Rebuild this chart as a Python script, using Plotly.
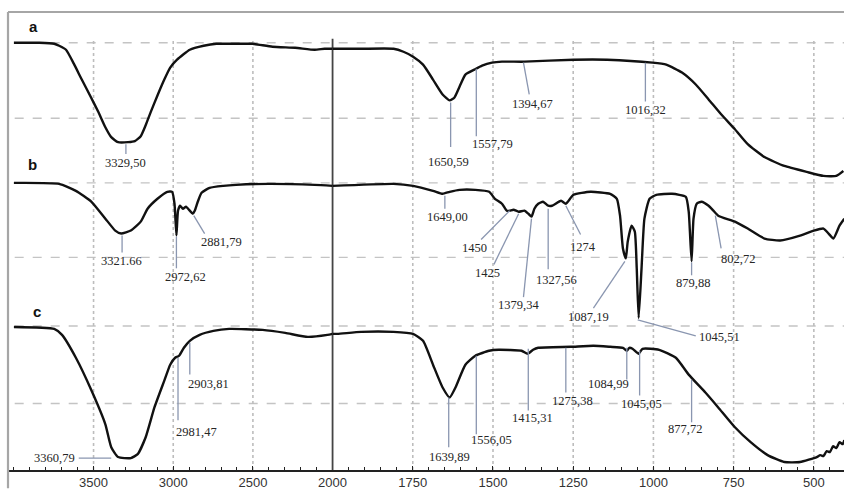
import plotly.graph_objects as go

# ---------------- data (wavenumber cm-1, transmittance a.u.) ----------------
a_wn = [4000, 3840, 3747, 3716, 3673, 3624, 3574, 3519, 3469, 3426, 3389, 3346, 3284, 3241, 3204,
        3173, 3142, 3099, 3056, 3019, 2976, 2896, 2809, 2729, 2575, 2501, 2377, 2235, 2112, 2050,
        2000, 1911, 1810, 1779, 1749, 1718, 1687, 1657, 1635, 1620, 1604, 1586, 1558, 1534, 1503,
        1472, 1402, 1249, 1144, 1003, 960, 911, 868, 828, 789, 746, 706, 654, 592, 522, 470, 430, 408]
a_t = [430, 430, 429, 427, 423, 409, 393, 376, 360, 345, 335, 330, 330, 331, 336,
       347, 360, 377, 393, 405, 413, 423, 427, 429, 429, 429, 426, 425, 423, 424,
       424, 424, 424, 421, 416, 408, 393, 378, 372, 375, 386, 398, 403, 407, 410,
       411, 411, 413, 413, 410, 408, 400, 388, 373, 358, 343, 328, 315, 306, 300, 296, 296, 301]

b_wn = [4000, 3716, 3611, 3513, 3426, 3364, 3327, 3266, 3204, 3161, 3099, 3037, 3007, 2992, 2980,
        2970, 2957, 2939, 2920, 2896, 2877, 2865, 2846, 2822, 2772, 2686, 2606, 2402, 2112, 2000,
        1810, 1749, 1687, 1657, 1635, 1604, 1555, 1512, 1494, 1472, 1457, 1448, 1436, 1420, 1402,
        1390, 1380, 1371, 1359, 1344, 1328, 1316, 1288, 1273, 1249, 1196, 1135, 1114, 1104, 1095,
        1086, 1080, 1068, 1058, 1052, 1046, 1037, 1028, 1012, 991, 942, 899, 890, 881, 875, 865,
        850, 828, 813, 798, 746, 706, 654, 605, 543, 500, 470, 454, 439, 420, 405]
b_t = [289, 288, 281, 270, 253, 241, 238, 241, 250, 263, 273, 280, 280, 268, 236,
       261, 266, 263, 265, 261, 258, 261, 270, 279, 284, 286, 287, 288, 287, 286,
       288, 286, 281, 278, 280, 282, 282, 280, 273, 268, 261, 261, 262, 260, 261,
       258, 255, 263, 268, 270, 266, 266, 271, 268, 277, 280, 278, 273, 256, 223,
       213, 230, 246, 240, 203, 153, 203, 253, 273, 277, 278, 275, 260, 210, 253, 268,
       270, 266, 261, 256, 250, 243, 233, 231, 236, 241, 243, 238, 233, 246, 253]

c_wn = [4000, 3747, 3698, 3611, 3513, 3426, 3389, 3346, 3266, 3223, 3173, 3118, 3056, 3019, 2988,
        2975, 2963, 2933, 2896, 2834, 2748, 2649, 2439, 2297, 2155, 2032, 2000,
        1985, 1911, 1810, 1749, 1718, 1687, 1657, 1635, 1617, 1586, 1555, 1512, 1482, 1411, 1392,
        1375, 1359, 1258, 1187, 1135, 1095, 1083, 1075, 1065, 1046, 1034, 982, 930, 890, 838, 798,
        746, 697, 644, 592, 543, 491, 480, 470, 460, 450, 440, 430, 420, 410, 405]
c_t = [144, 142, 136, 113, 80, 46, 23, 13, 12, 16, 33, 63, 90, 106, 113,
       114, 115, 123, 130, 136, 140, 142, 141, 138, 134, 136, 137,
       137, 139, 139, 137, 130, 106, 83, 73, 83, 106, 115, 120, 121, 120, 117,
       121, 123, 124, 125, 124, 123, 120, 123, 122, 117, 122, 121, 113, 96, 78, 63,
       43, 28, 15, 8, 8, 13, 15, 14, 19, 18, 24, 22, 28, 26, 30]

# tick labels
left_ticks = [3500, 3000, 2500, 2000]
right_ticks = [1750, 1500, 1250, 1000, 750, 500]

# peak labels: text, tip(wn,t), line end(wn,t), label(wn,t), anchor
peak_labels = [
    ("3329,50", 3297, 328, 3297, 318, 3297, 309, "center"),
    ("1650,59", 1632, 370, 1632, 325, 1638, 310, "center"),
    ("1557,79", 1552, 404, 1552, 336, 1500, 328, "center"),
    ("1394,67", 1405, 410, 1387, 378, 1377, 368, "center"),
    ("1016,32", 1025, 410, 1025, 371, 1025, 362, "center"),
    ("3321.66", 3321, 236, 3321, 219, 3327, 210, "center"),
    ("2972,62", 2980, 235, 2980, 203, 2920, 194, "center"),
    ("2881,79", 2871, 256, 2803, 238, 2698, 229, "center"),
    ("1649,00", 1650, 276, 1650, 263, 1641, 255, "center"),
    ("1450", 1448, 261, 1537, 232, 1558, 223, "center"),
    ("1425", 1420, 258, 1497, 207, 1518, 198, "center"),
    ("1379,34", 1380, 253, 1405, 174, 1420, 166, "center"),
    ("1327,56", 1328, 263, 1328, 202, 1301, 191, "center"),
    ("1274", 1273, 266, 1227, 237, 1218, 224, "center"),
    ("1087,19", 1089, 210, 1187, 163, 1203, 154, "center"),
    ("1045,51", 1049, 151, 868, 135, 865, 134, "left"),
    ("879,88", 881, 209, 881, 196, 877, 188, "center"),
    ("802,72", 807, 256, 789, 223, 736, 212, "center"),
    ("3360,79", 3389, 12, 3593, 12, 3605, 12, "right"),
    ("2981,47", 2970, 113, 2970, 50, 2852, 38, "center"),
    ("2903,81", 2896, 128, 2896, 96, 2778, 87, "center"),
    ("1639,89", 1638, 73, 1638, 23, 1635, 13, "center"),
    ("1556,05", 1552, 115, 1552, 36, 1506, 30, "center"),
    ("1415,31", 1390, 122, 1390, 60, 1377, 52, "center"),
    ("1275,38", 1273, 123, 1273, 78, 1252, 69, "center"),
    ("1084,99", 1083, 123, 1083, 91, 1141, 87, "center"),
    ("1045,05", 1043, 120, 1043, 75, 1037, 66, "center"),
    ("877,72", 881, 91, 881, 48, 902, 41, "center"),
]

hgrid = [430, 354, 289, 214, 145, 67]
vgrid = [3500, 3000, 2500, 1750, 1500, 1250, 1000, 750, 500]

# ---------------- figure ----------------
fig = go.Figure()
split = 330 / 850

def add_spectrum(wn, t):
    lw = [w for w in wn if w >= 2000]
    lt = [v for w, v in zip(wn, t) if w >= 2000]
    rw = [w for w in wn if w <= 2000]
    rt = [v for w, v in zip(wn, t) if w <= 2000]
    style = dict(color="#111111", width=2.4, shape="spline", smoothing=0.5)
    fig.add_trace(go.Scatter(x=lw, y=lt, mode="lines", line=style, xaxis="x", yaxis="y",
                             hoverinfo="skip", cliponaxis=False))
    fig.add_trace(go.Scatter(x=rw, y=rt, mode="lines", line=style, xaxis="x2", yaxis="y",
                             hoverinfo="skip", cliponaxis=False))

def xr(w):
    return "x" if w >= 2000 else "x2"

shapes = []
annotations = []

# grid
for h in hgrid:
    shapes.append(dict(type="line", xref="paper", yref="y", x0=0.008, x1=1, y0=h, y1=h,
                       line=dict(color="#c4c4c4", width=1.4, dash="dash"), layer="below"))
for v in vgrid:
    shapes.append(dict(type="line", xref=xr(v), yref="y", x0=v, x1=v, y0=0, y1=433,
                       line=dict(color="#bdbdbd", width=1.6, dash="dot"), layer="below"))
shapes.append(dict(type="line", xref="paper", yref="y", x0=split, x1=split, y0=0, y1=434,
                   line=dict(color="#444444", width=1.8), layer="below"))

# frame
shapes.append(dict(type="line", xref="paper", yref="paper", x0=0, x1=1, y0=1, y1=1,
                   line=dict(color="#a6a6a6", width=2.2)))
shapes.append(dict(type="line", xref="paper", yref="paper", x0=0, x1=0, y0=-0.04, y1=1,
                   line=dict(color="#a6a6a6", width=2.2)))

add_spectrum(a_wn, a_t)
add_spectrum(b_wn, b_t)
add_spectrum(c_wn, c_t)

for text, tw, tt, ew, et, lw_, lt_, anc in peak_labels:
    shapes.append(dict(type="line", xref=xr(tw), yref="y", x0=tw, x1=ew, y0=tt, y1=et,
                       line=dict(color="#8a96b0", width=1.3)))
    annotations.append(dict(x=lw_, y=lt_, xref=xr(lw_), yref="y", text=text, showarrow=False,
                            xanchor=anc, yanchor="middle",
                            font=dict(family="Liberation Serif, Times New Roman, serif", size=12.5, color="#262626")))

for letter, w, t in [("a", 3877, 446), ("b", 3883, 308), ("c", 3852, 160)]:
    annotations.append(dict(x=w, y=t, xref="x", yref="y", text="<b>%s</b>" % letter, showarrow=False,
                            xanchor="center", yanchor="middle",
                            font=dict(family="Liberation Sans, Arial, sans-serif", size=15, color="#111")))

axis_common = dict(showgrid=False, zeroline=False, showline=True, linecolor="#222", linewidth=1.5,
                   ticks="inside", ticklen=4, tickcolor="#222", tickwidth=1.2, anchor="y",
                   tickfont=dict(family="Liberation Sans, Arial, sans-serif", size=13, color="#333"))

fig.update_layout(
    width=858, height=490, autosize=False,
    margin=dict(l=8, r=0, t=12, b=17),
    plot_bgcolor="white", paper_bgcolor="white",
    showlegend=False,
    xaxis=dict(domain=[0, split], range=[4037, 2000], tickvals=left_ticks,
               ticktext=[str(v) for v in left_ticks],
               minor=dict(dtick=100, ticks="inside", ticklen=3, tickcolor="#222"), **axis_common),
    xaxis2=dict(domain=[split, 1], range=[2000, 406], tickvals=right_ticks,
                ticktext=[str(v) for v in right_ticks],
                minor=dict(dtick=50, ticks="inside", ticklen=3, tickcolor="#222"), **axis_common),
    yaxis=dict(range=[0, 461], visible=False, fixedrange=True),
    shapes=shapes,
    annotations=annotations,
)

post = (
    "var gd=document.getElementById('{plot_id}');"
    "var s=[document.documentElement.style, document.body.style];"
    "for(var i=0;i<s.length;i++){s[i].margin='0';s[i].padding='0';s[i].overflow='hidden';"
    "s[i].width='858px';s[i].height='490px';}"
    "Plotly.relayout(gd,{width:858,height:490});"
)

fig.write_html(
    "out.html",
    config={"displayModeBar": False, "responsive": False},
    post_script=post,
)
